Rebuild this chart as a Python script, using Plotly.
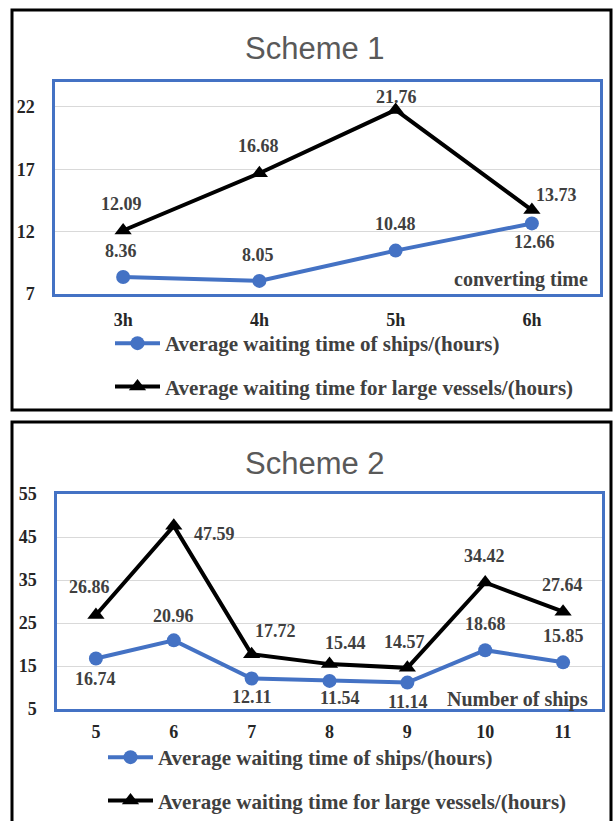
import plotly.graph_objects as go

# ---- Scheme 1: waiting time vs. converting time ----
conv_times = ["3h", "4h", "5h", "6h"]
s1_ships = [8.36, 8.05, 10.48, 12.66]
s1_large = [12.09, 16.68, 21.76, 13.73]
s1_yticks = [7, 12, 17, 22]

# ---- Scheme 2: waiting time vs. number of ships ----
n_ships = ["5", "6", "7", "8", "9", "10", "11"]
s2_ships = [16.74, 20.96, 12.11, 11.54, 11.14, 18.68, 15.85]
s2_large = [26.86, 47.59, 17.72, 15.44, 14.57, 34.42, 27.64]
s2_yticks = [5, 15, 25, 35, 45, 55]

name_ships = "Average waiting time of ships/(hours)"
name_large = "Average waiting time for large vessels/(hours)"

# value-label placement (pixel shift from the marker: dx, dy-up)
s1_ships_off = [(-2, 26), (-1, 26), (0, 27), (3, -19)]
s1_large_off = [(-2, 27), (-1, 27), (1, 13), (25, 15)]
s2_ships_off = [(0, -20), (0, 24), (0, -19), (10, -17), (1, -19), (0, 26), (0, 26)]
s2_large_off = [(-6, 28), (41, -8), (24, 23), (16, 21), (-3, 26), (-1, 26), (-1, 27)]

W, H = 615, 821
BLUE = "#4472C4"
SERIF = "Liberation Serif"
LABEL_GREY = "#404040"


def px(x):
    return x / W


def py(y):
    return 1 - y / H


fig = go.Figure()

line_ships = dict(color=BLUE, width=4)
line_large = dict(color="black", width=4)
mk_ships = dict(symbol="circle", size=14, color=BLUE)
mk_large = dict(symbol="triangle-up", size=15, color="black")

fig.add_trace(go.Scatter(x=conv_times, y=s1_ships, mode="lines+markers", name=name_ships,
                         line=line_ships, marker=mk_ships, xaxis="x", yaxis="y",
                         legend="legend", legendgroup="a1"))
fig.add_trace(go.Scatter(x=conv_times, y=s1_large, mode="lines+markers", name=name_large,
                         line=line_large, marker=mk_large, xaxis="x", yaxis="y",
                         legend="legend", legendgroup="b1"))
fig.add_trace(go.Scatter(x=n_ships, y=s2_ships, mode="lines+markers", name=name_ships,
                         line=line_ships, marker=mk_ships, xaxis="x2", yaxis="y2",
                         legend="legend2", legendgroup="a2"))
fig.add_trace(go.Scatter(x=n_ships, y=s2_large, mode="lines+markers", name=name_large,
                         line=line_large, marker=mk_large, xaxis="x2", yaxis="y2",
                         legend="legend2", legendgroup="b2"))

annotations = []


def value_labels(ys, offs, xref, yref):
    # annotations on a category axis are placed by category index
    for i, (yv, (dx, dy)) in enumerate(zip(ys, offs)):
        annotations.append(dict(
            x=i, y=yv, xref=xref, yref=yref, text=f"{yv:.2f}", showarrow=False,
            xshift=dx, yshift=dy, xanchor="center", yanchor="middle",
            font=dict(family=SERIF, size=18, color=LABEL_GREY, weight="bold"),
        ))


value_labels(s1_ships, s1_ships_off, "x", "y")
value_labels(s1_large, s1_large_off, "x", "y")
value_labels(s2_ships, s2_ships_off, "x2", "y2")
value_labels(s2_large, s2_large_off, "x2", "y2")

title_font = dict(family="Liberation Sans", size=31, color="#595959")
axis_name_font = dict(family=SERIF, size=20, color=LABEL_GREY, weight="bold")
annotations += [
    dict(x=px(315), y=py(48), xref="paper", yref="paper", text="Scheme 1",
         xanchor="center", yanchor="middle", showarrow=False, font=title_font),
    dict(x=px(315), y=py(463), xref="paper", yref="paper", text="Scheme 2",
         xanchor="center", yanchor="middle", showarrow=False, font=title_font),
    dict(x=px(590), y=py(279), xref="paper", yref="paper", text="converting time",
         xanchor="right", yanchor="middle", showarrow=False, font=axis_name_font),
    dict(x=px(590), y=py(699), xref="paper", yref="paper", text="Number of ships",
         xanchor="right", yanchor="middle", showarrow=False, font=axis_name_font),
]

tick_font = dict(family=SERIF, size=18, color="#262626", weight="bold")
axis_common = dict(showline=True, mirror=True, linecolor=BLUE, linewidth=2.5,
                   tickfont=tick_font, ticks="", zeroline=False)

shapes = [
    dict(type="rect", xref="paper", yref="paper", x0=px(12), x1=px(611),
         y0=py(410), y1=py(10), line=dict(color="black", width=3)),
    dict(type="rect", xref="paper", yref="paper", x0=px(12), x1=px(611),
         y0=py(840), y1=py(422), line=dict(color="black", width=3)),
]

legend_font = dict(family=SERIF, size=21, color=LABEL_GREY, weight="bold")

fig.update_layout(
    width=W, height=H,
    margin=dict(l=0, r=0, t=0, b=0, autoexpand=False),
    paper_bgcolor="white", plot_bgcolor="white",
    xaxis=dict(domain=[px(55), px(600)], anchor="y", type="category",
               range=[-0.5, 3.5], showgrid=False, ticklabelstandoff=8, **axis_common),
    yaxis=dict(domain=[py(294), py(82)], anchor="x", range=[7, 24],
               tickvals=s1_yticks, showgrid=True, gridcolor="#d9d9d9", gridwidth=1,
               ticklabelstandoff=14, **axis_common),
    xaxis2=dict(domain=[px(57), px(602)], anchor="y2", type="category",
                range=[-0.5, 6.5], showgrid=False, ticklabelstandoff=5, **axis_common),
    yaxis2=dict(domain=[py(709), py(494)], anchor="x2", range=[5, 55],
                tickvals=s2_yticks, showgrid=True, gridcolor="#d9d9d9", gridwidth=1,
                ticklabelstandoff=14, **axis_common),
    legend=dict(x=px(110), y=py(323), xanchor="left", yanchor="top",
                font=legend_font, bgcolor="rgba(0,0,0,0)", tracegroupgap=13,
                traceorder="grouped", itemwidth=45),
    legend2=dict(x=px(103), y=py(737), xanchor="left", yanchor="top",
                 font=legend_font, bgcolor="rgba(0,0,0,0)", tracegroupgap=13,
                 traceorder="grouped", itemwidth=45),
    annotations=annotations,
    shapes=shapes,
)

fig.write_html("out.html")
